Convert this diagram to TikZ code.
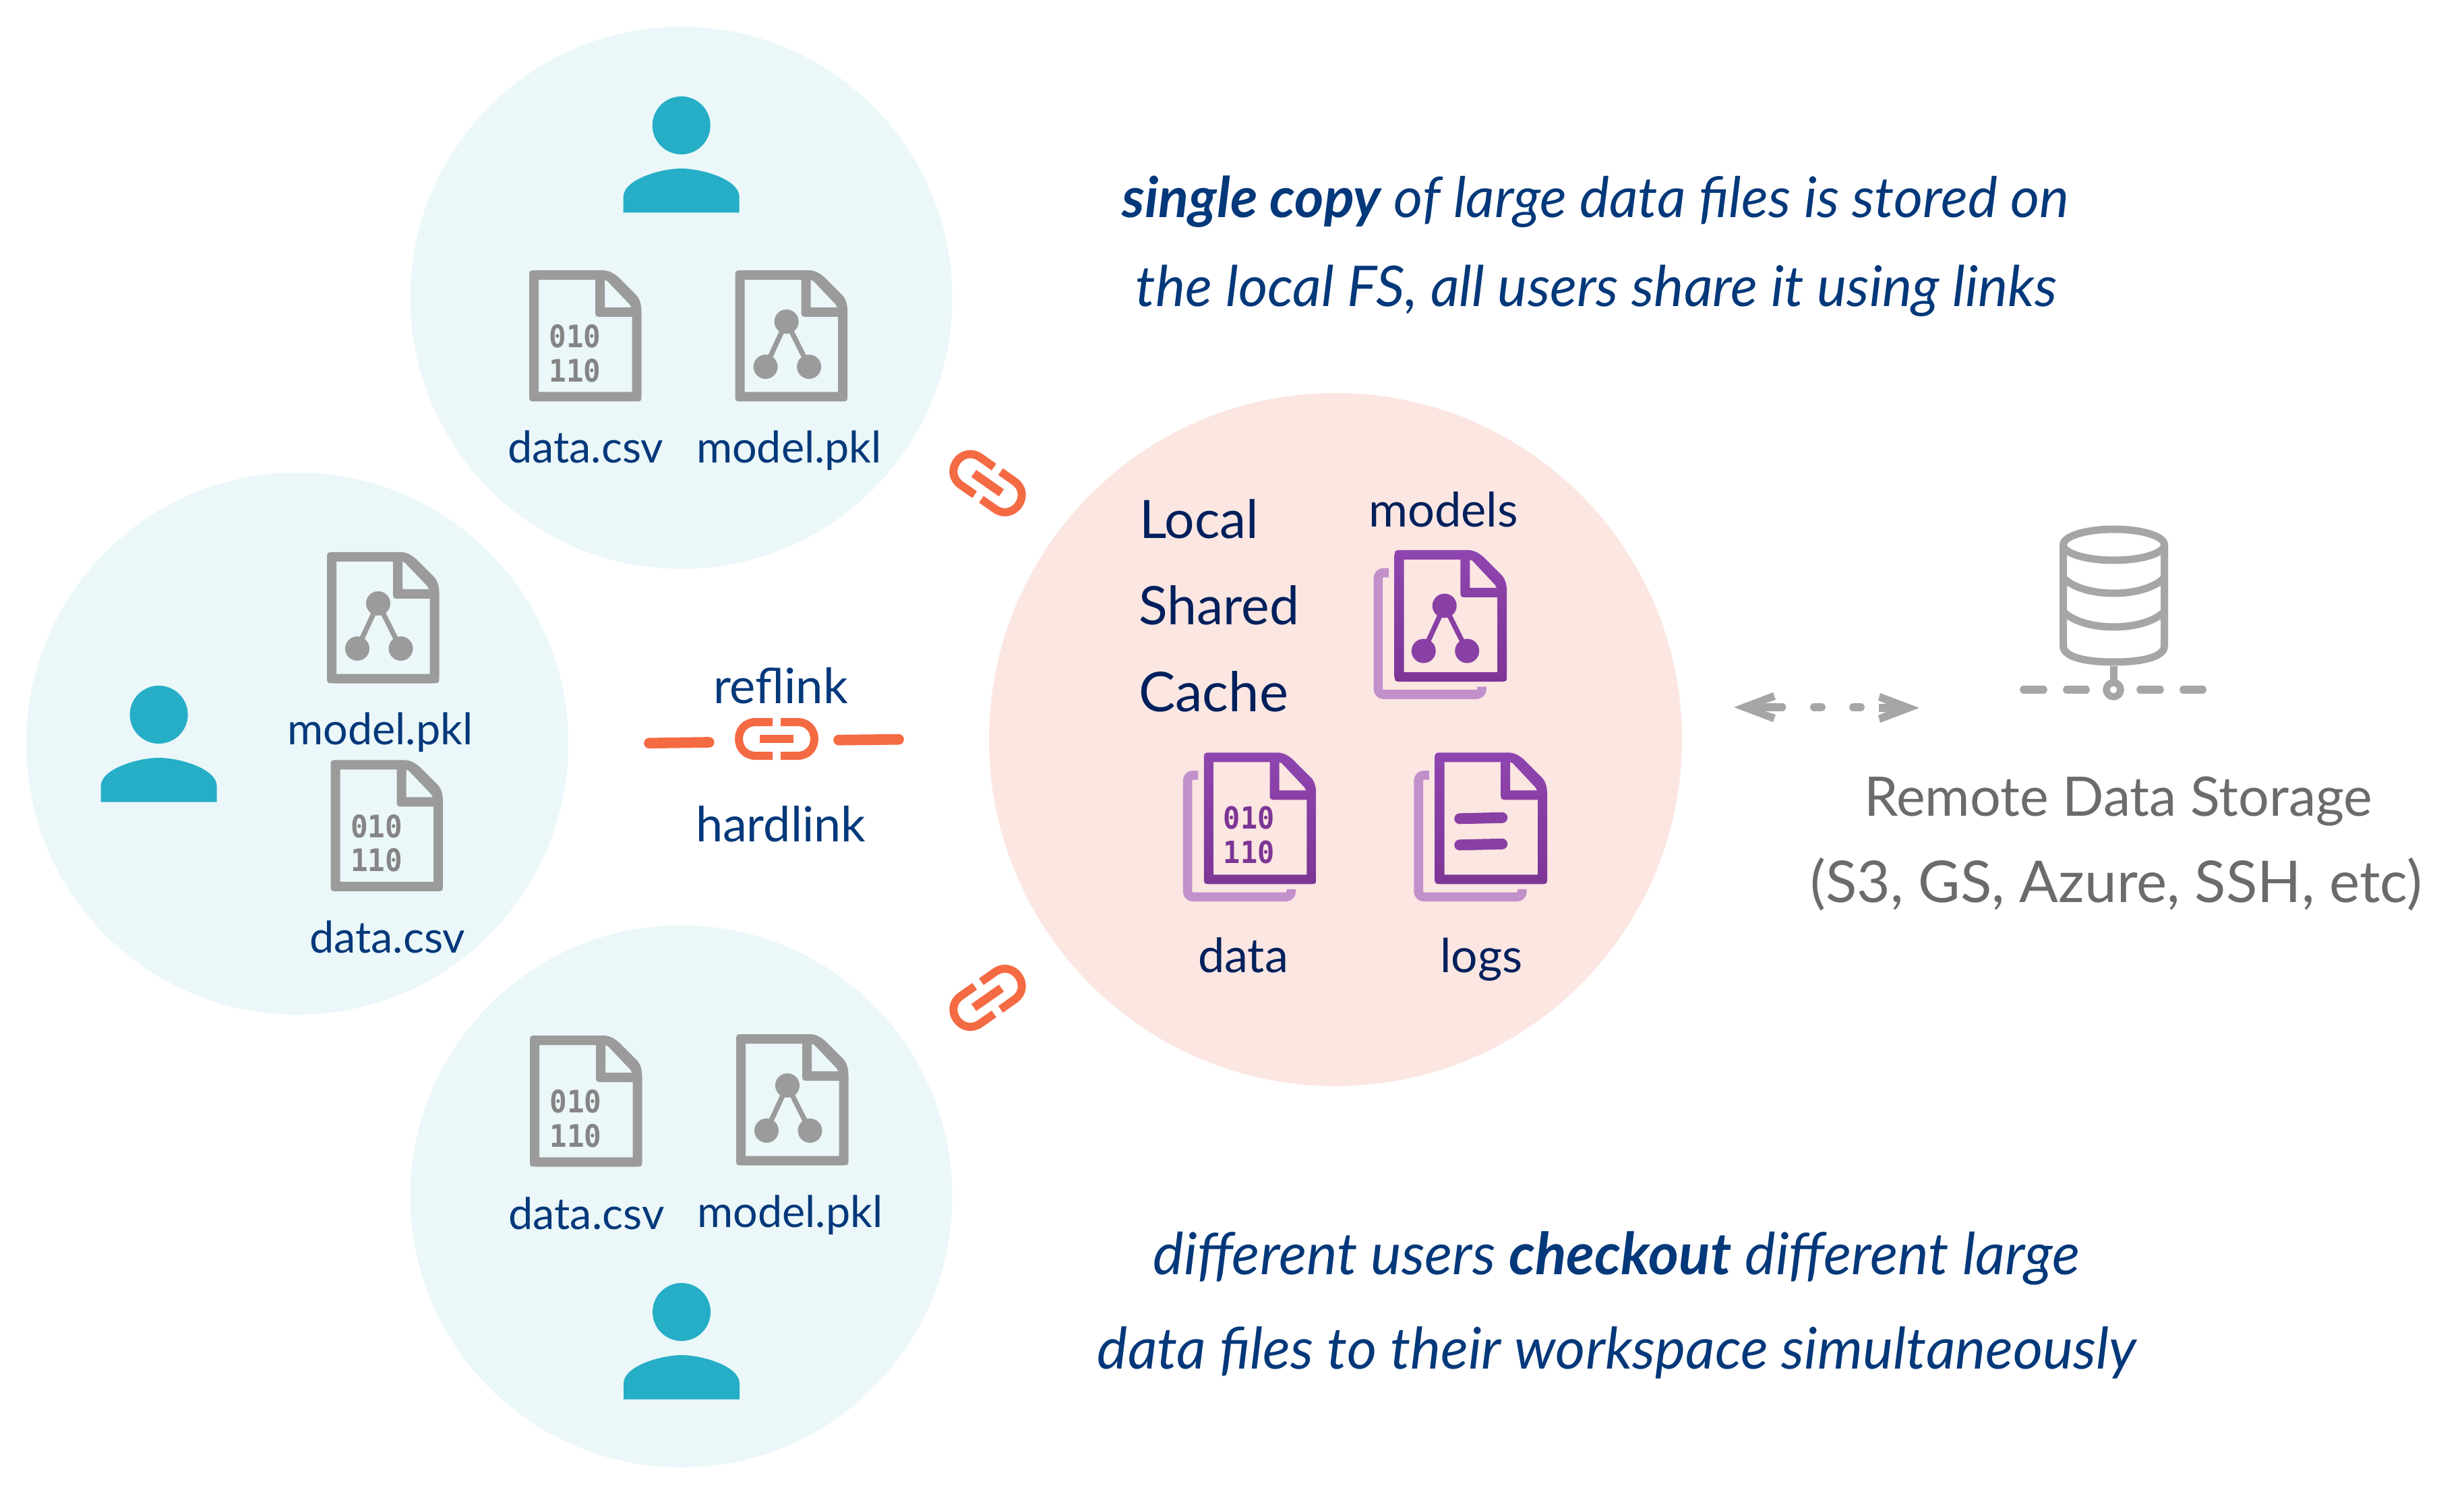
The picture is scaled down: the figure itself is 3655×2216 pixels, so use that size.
\documentclass[tikz,border=0pt]{standalone}
\usepackage{fontspec}
\usepackage{graphicx}
\setmainfont{Lato}
\newfontfamily\binfont{DejaVu Sans Mono}[Scale=1]
\newdimen\pxu \pxu=0.01cm
\definecolor{bluebg}{HTML}{EBF7F9}
\definecolor{pinkbg}{HTML}{FBE6E2}
\definecolor{usercol}{HTML}{26AEC7}
\definecolor{greydoc}{HTML}{9B9B9B}
\definecolor{greybin}{HTML}{858585}
\definecolor{purtop}{HTML}{8F45AF}
\definecolor{purbot}{HTML}{7D3595}
\definecolor{purmid}{HTML}{8840A4}
\definecolor{purback}{HTML}{C290CB}
\definecolor{linkcol}{HTML}{F46A43}
\definecolor{navy}{HTML}{03387A}
\definecolor{darknavy}{HTML}{00205C}
\definecolor{netgrey}{HTML}{A6A6A6}
\definecolor{remotegrey}{HTML}{6B6B6B}
\tikzset{
  x=0.01cm,y=-0.01cm,
  lw/.style={line width=#1*0.01cm},
  docgrey/.style={fill=greydoc},
  docpurple/.style={top color=purtop,bottom color=purbot,shading angle=0},
  lblnode/.style={anchor=base,inner sep=0pt,outer sep=0pt},
}
% #1 x, #2 y, #3 w, #4 h, #5 t, #6 fold x, #7 fold y, #8 style
\newcommand{\docbody}[8]{%
  \begin{scope}[shift={(#1,#2)}]
    \pgfmathsetmacro{\dw}{#3}\pgfmathsetmacro{\dh}{#4}\pgfmathsetmacro{\dt}{#5}
    \pgfmathsetmacro{\dfx}{#6}\pgfmathsetmacro{\dfy}{#7}
    \pgfmathsetmacro{\flat}{\dfx+\dt-3}
    \pgfmathsetmacro{\dax}{\dfx+\dt+20}
    \pgfmathsetmacro{\dbx}{\dw-7}
    \pgfmathsetmacro{\dby}{\dbx-\dax+10}
    \pgfmathsetmacro{\hr}{\dw-\dt}\pgfmathsetmacro{\hb}{\dh-\dt}
    \pgfmathsetmacro{\trx}{\dfx+\dt}\pgfmathsetmacro{\try}{\dfy-\dt}
    \path[even odd rule,#8]
      (10,0) -- (\flat,0) .. controls (\flat+9,0) and (\flat+16,4) .. (\dax,10)
      -- (\dbx,\dby) .. controls (\dw-2,\dby+6) and (\dw,\dby+14) .. (\dw,\dby+24)
      -- (\dw,\dh-10) .. controls (\dw,\dh) .. (\dw-10,\dh)
      -- (10,\dh) .. controls (0,\dh) .. (0,\dh-10)
      -- (0,10) .. controls (0,0) .. (10,0) -- cycle
      (\dt,\dt) -- (\dfx,\dt) -- (\dfx,\dfy-10) .. controls (\dfx,\dfy) .. (\dfx+10,\dfy)
      -- (\hr,\dfy) -- (\hr,\hb) -- (\dt,\hb) -- cycle
      (\trx,\dt) -- (\trx+4,\dt+2) -- (\hr-4,\try-5) -- (\hr-1,\try) -- (\trx,\try) -- cycle;
  \end{scope}}
\newcommand{\graphmark}[3]{% x y colour
  \begin{scope}[shift={(#1,#2)}]
    \draw[#3,lw=7.5] (76,76) -- (45,143) (76,76) -- (109.5,143);
    \fill[#3] (76,76) circle (18) (45,143) circle (18) (109.5,143) circle (18);
  \end{scope}}
\newcommand{\greydata}[3]{% name x y
  \docbody{#2}{#3}{166.5}{194.5}{14}{98}{69}{docgrey}
  \node[text=greybin,inner sep=0pt] (#1a) at (#2+68,#3+98) {\scalebox{1}[1.08]{\binfont\bfseries\fontsize{12.1}{12.1}\selectfont 010}};
  \node[text=greybin,inner sep=0pt] (#1b) at (#2+68,#3+148.5) {\scalebox{1}[1.08]{\binfont\bfseries\fontsize{12.1}{12.1}\selectfont 110}};}
\newcommand{\greymodel}[2]{%
  \docbody{#1}{#2}{166.5}{194.5}{14}{98}{69}{docgrey}
  \graphmark{#1}{#2}{greydoc}}
\newcommand{\backdoc}[2]{% origin of the front doc
  \draw[purback,lw=13.6,rounded corners=8*0.01cm]
    (#1-8.6,#2+33.5) -- (#1-24.3,#2+33.5) -- (#1-24.3,#2+214) -- (#1+129.4,#2+214) -- (#1+129.4,#2+202.5);}
\newcommand{\person}[2]{%
  \fill[usercol] (#1,#2) circle (43);
  \fill[usercol] (#1-86,#2+129.5) -- (#1-86,#2+106)
    .. controls (#1-86,#2+80) and (#1-30,#2+64) .. (#1,#2+64)
    .. controls (#1+30,#2+64) and (#1+86,#2+80) .. (#1+86,#2+106)
    -- (#1+86,#2+129.5) -- cycle;}
\newcommand{\linkicon}[3]{% x y rotation
  \begin{scope}[shift={(#1,#2)},rotate=#3]
    \draw[linkcol,lw=12] (-6,-25) -- (-31,-25) .. controls (-47,-25) and (-56,-13) .. (-56,0)
      .. controls (-56,13) and (-47,25) .. (-31,25) -- (-6,25);
    \draw[linkcol,lw=12] (6,-25) -- (31,-25) .. controls (47,-25) and (56,-13) .. (56,0)
      .. controls (56,13) and (47,25) .. (31,25) -- (6,25);
    \fill[linkcol] (-25,-6.4) rectangle (25,6.4);
  \end{scope}}
\newcommand{\lbl}[6]{% name cx base width colour text
  \node[lblnode,text=#5] (#1) at (#2,#3) {\resizebox{\dimexpr#4\pxu+6\pxu\relax}{!}{\fontsize{20}{24}\selectfont #6}};}
\begin{document}
\begin{tikzpicture}
\useasboundingbox (0,0) rectangle (3655,2216);
\fill[white] (0,0) rectangle (3655,2216);
% background circles
\fill[bluebg] (1010.6,441.7) circle (402);
\fill[bluebg] (441,1103) circle (402);
\fill[bluebg] (1010.6,1774.5) circle (402);
\fill[pinkbg] (1981,1097) circle (514);
% users
\person{1010.7}{186}
\person{235.6}{1060}
\person{1011}{1946}
% grey documents
\greydata{topd}{785}{401}
\greymodel{1090.6}{401}
\greymodel{485}{819}
\greydata{leftd}{490.5}{1127.4}
\greydata{botd}{786}{1536}
\greymodel{1092}{1534}
% grey labels
\lbl{l1}{868.5}{687}{225}{navy}{data.csv}
\lbl{l2}{1170.5}{687}{269}{navy}{model.pkl}
\lbl{l3}{564}{1104.6}{269}{navy}{model.pkl}
\lbl{l4}{574.5}{1413.5}{225}{navy}{data.csv}
\lbl{l5}{870}{1823}{225}{navy}{data.csv}
\lbl{l6}{1172}{1820.7}{269}{navy}{model.pkl}
% links
\linkicon{1465}{716.7}{-35}
\linkicon{1465}{1480}{35}
\linkicon{1152}{1096}{0}
\draw[linkcol,lw=15.7,line cap=round] (963,1102.3) -- (1051.7,1101);
\draw[linkcol,lw=15.7,line cap=round] (1244,1097.7) -- (1333,1096.7);
\lbl{reflink}{1158}{1043}{194}{navy}{reflink}
\lbl{hardlink}{1158}{1248}{246}{navy}{hardlink}
% cache documents
\backdoc{2068.7}{816}
\docbody{2068.7}{816}{166.5}{195}{14}{97.6}{70}{docpurple}
\graphmark{2066.7}{822.5}{purmid}
\backdoc{1785.9}{1116.3}
\docbody{1785.9}{1116.3}{166.5}{195}{14}{97.6}{70}{docpurple}
\node[text=purbot,inner sep=0pt] (cbina) at (1785.9+66.7,1116.3+97) {\scalebox{1}[1.08]{\binfont\bfseries\fontsize{11.9}{11.9}\selectfont 010}};
\node[text=purbot,inner sep=0pt] (cbinb) at (1785.9+66.7,1116.3+148) {\scalebox{1}[1.08]{\binfont\bfseries\fontsize{11.9}{11.9}\selectfont 110}};
\backdoc{2128.5}{1116.3}
\docbody{2128.5}{1116.3}{166.5}{195}{14}{97.6}{70}{docpurple}
\draw[purmid,lw=16,line cap=round] (2128.5+36.7,1116.3+98) -- (2128.5+99.7,1116.3+96.5);
\draw[purmid,lw=16,line cap=round] (2128.5+36.7,1116.3+137) -- (2128.5+99.7,1116.3+135.5);
% cache labels
\lbl{local}{1778.5}{798}{171}{darknavy}{Local}
\lbl{shared}{1808}{926}{232}{darknavy}{Shared}
\lbl{cache}{1800}{1055.6}{216}{darknavy}{Cache}
\lbl{models}{2141}{781.6}{216}{darknavy}{models}
\lbl{data}{1844}{1442}{128}{darknavy}{data}
\lbl{logs}{2197.5}{1442}{116}{darknavy}{logs}
% captions
\lbl{capa}{2367}{322.7}{1399}{navy}{\itshape{\bfseries single copy} of large data files is stored on}
\lbl{capb}{2368}{455}{1360}{navy}{\itshape the local FS, all users share it using links}
\lbl{capc}{2398}{1890}{1368}{navy}{\itshape different users {\bfseries checkout} different large}
\lbl{capd}{2398.5}{2030}{1535}{navy}{\itshape data files to their workspace simultaneously}
% remote
\draw[netgrey,lw=11] (3135.5,808) ellipse (75 and 23);
\draw[netgrey,lw=11] (3060.5,808) -- (3060.5,958) .. controls (3060.5,975) and (3095,982) .. (3135.5,982)
  .. controls (3176,982) and (3210.5,975) .. (3210.5,958) -- (3210.5,808);
\draw[netgrey,lw=11] (3060.5,857) .. controls (3075,872) and (3105,880) .. (3135.5,880)
  .. controls (3166,880) and (3196,872) .. (3210.5,857);
\draw[netgrey,lw=11] (3060.5,907) .. controls (3075,922) and (3105,930) .. (3135.5,930)
  .. controls (3166,930) and (3196,922) .. (3210.5,907);
\draw[netgrey,lw=11] (3135,988) -- (3135,1010);
\draw[netgrey,lw=10.5] (3135,1023) circle (10.5);
\draw[netgrey,lw=11.3,line cap=round] (3001.6,1023) -- (3031.4,1023);
\draw[netgrey,lw=11.3,line cap=round] (3065.6,1023) -- (3094.4,1023);
\draw[netgrey,lw=11.3,line cap=round] (3174.6,1023) -- (3204.4,1023);
\draw[netgrey,lw=11.3,line cap=round] (3238.6,1023) -- (3267.4,1023);
% sync arrow
\fill[netgrey] (2572,1049) -- (2630,1027) -- (2634,1038) -- (2618,1043.2) -- (2618,1054.8) -- (2634,1060) -- (2630,1071) -- cycle;
\draw[netgrey,lw=11.7,line cap=round] (2615,1049) -- (2643.5,1049);
\draw[netgrey,lw=11.7,line cap=round] (2691,1049) -- (2702,1049);
\draw[netgrey,lw=11.7,line cap=round] (2749,1049) -- (2760,1049);
\fill[netgrey] (2847,1050) -- (2789,1028) -- (2786,1039) -- (2798,1044) -- (2787,1044) -- (2787,1056) -- (2798,1056) -- (2786,1061) -- (2789,1072) -- cycle;
\lbl{remotea}{3142}{1210.7}{748}{remotegrey}{Remote Data Storage}
\lbl{remoteb}{3139}{1338}{901}{remotegrey}{(S3, GS, Azure, SSH, etc)}
\end{tikzpicture}
\end{document}
